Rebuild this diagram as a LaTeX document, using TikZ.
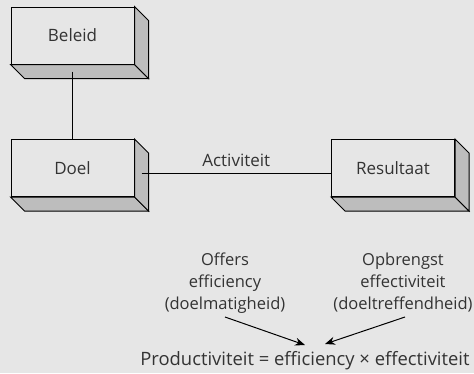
\documentclass[tikz,border=0pt]{standalone}
\usepackage{fontspec}
\setmainfont{Open Sans}
\usetikzlibrary{arrows.meta}
\definecolor{canvas}{HTML}{E6E6E6}
\definecolor{faceshade}{HTML}{BDBDBD}
\definecolor{inkgray}{HTML}{333333}
\tikzset{
  slab/.style={draw=black, line width=1pt, fill=canvas, minimum width=123pt,
    minimum height=57pt, inner sep=0pt, text=inkgray, font=\fontsize{17}{20}\selectfont},
  depthface/.style={draw=black, line width=1pt, fill=faceshade, line join=miter},
  wire/.style={draw=black, line width=0.9pt},
  note/.style={align=center, text=inkgray, inner sep=0pt, font=\fontsize{16.5}{22}\selectfont},
  push/.style={draw=black, line width=1pt, -{Stealth[length=10pt,width=8pt]}}
}
\begin{document}
\begin{tikzpicture}[x=1pt,y=-1pt]
  \fill[canvas] (0,0) rectangle (474,373);
  \useasboundingbox (0,0) rectangle (474,373);

  % front faces of the three blocks
  \node[slab] (beleid) at (72.5,35.5) {Beleid};
  \node[slab] (doel) at (72.5,168) {Doel};
  \node[slab] (result) at (393,168) {Resultaat};

  % shaded bottom and right faces of each block
  \foreach \b in {beleid,doel,result}{
    \path[depthface] (\b.south west) -- ++(14,14) -- ([shift={(14,14)}]\b.south east)
      -- (\b.south east) -- cycle;
    \path[depthface] (\b.north east) -- ++(14,14) -- ([shift={(14,14)}]\b.south east)
      -- (\b.south east) -- cycle;
  }

  % connectors between the blocks
  \draw[wire] ([yshift=-7pt]beleid.south) -- (doel.north);
  \draw[wire] ([shift={(7pt,-5pt)}]doel.east) -- ([yshift=-5pt]result.west)
    node[midway, above=6pt, inner sep=0pt, text=inkgray, font=\fontsize{17}{20}\selectfont] {Activiteit};

  % notes and the productivity relation
  \node[note] (offers) at (225,283) {Offers\\efficiency\\(doelmatigheid)};
  \node[note] (opbrengst) at (403,283) {Opbrengst\\effectiviteit\\(doeltreffendheid)};
  \node[note, font=\fontsize{18.4}{22}\selectfont] (prod) at (305,361) {Productiviteit = efficiency × effectiviteit};

  \coordinate (offersfoot) at (225,317);
  \coordinate (opbrengstfoot) at (405,317);
  \coordinate (tipleft) at (305,345);
  \coordinate (tipright) at (325,344);
  \draw[push] (offersfoot) -- (tipleft);
  \draw[push] (opbrengstfoot) -- (tipright);
\end{tikzpicture}
\end{document}
